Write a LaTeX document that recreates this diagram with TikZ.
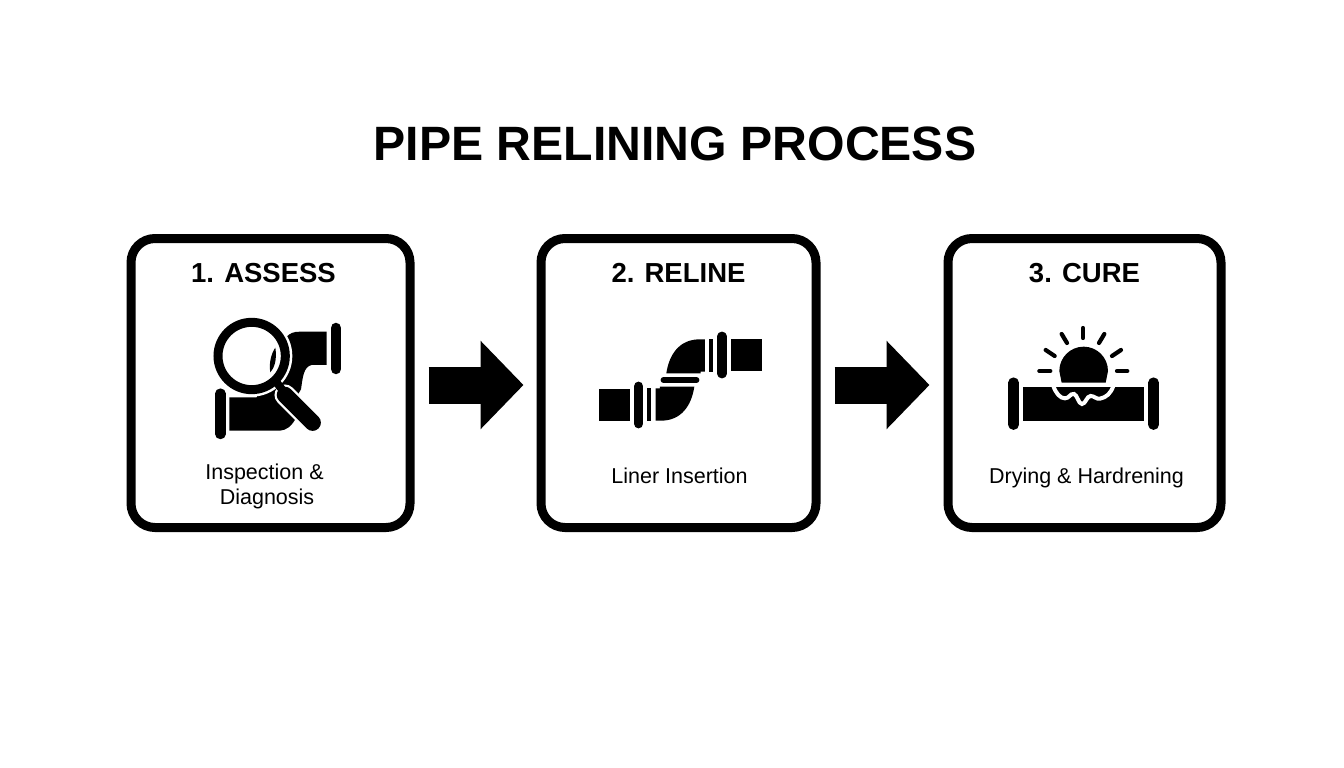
\documentclass[tikz,border=0pt]{standalone}
\usepackage{fontspec}
\setmainfont{Liberation Sans}
\usetikzlibrary{arrows.meta,calc,positioning}
\tikzset{
	stepbox/.style={draw,line width=9pt,rounded corners=24pt,minimum height=289pt,inner sep=0pt},
	heading/.style={font=\fontsize{27.5}{30}\selectfont\bfseries,inner sep=0pt},
	caption/.style={font=\fontsize{21.5}{25}\selectfont,align=center,inner sep=0pt},
	flow/.style={line width=37pt,-{Triangle[length=43pt,width=86pt]}},
	pipefill/.style={fill=black,draw=none},
	flange/.style={line width=10.5pt,line cap=round},
	ray/.style={line width=4.2pt,line cap=round},
	icon at/.style 2 args={shift={(#1pt,-#2pt)},x=.3333pt,y=-.3333pt},
}
\begin{document}
\begin{tikzpicture}[x=1pt,y=-1pt]
   \useasboundingbox (0,0) rectangle (1344,768);
   \node[font=\fontsize{48.2}{52}\selectfont\bfseries,inner sep=0pt] (title) at (675,144) {PIPE RELINING PROCESS};
   % the three boxes
   \node[stepbox,minimum width=279pt] (assess) at (270.5,383) {};
   \node[stepbox,minimum width=275pt,right=122pt of assess] (reline) {};
   \node[stepbox,minimum width=273pt,right=123pt of reline] (cure) {};
   \draw[flow,shorten <=14pt,shorten >=13pt] ([yshift=-2pt]assess.east) -- ([yshift=-2pt]reline.west);
   \draw[flow,shorten <=14pt,shorten >=14pt] ([yshift=-2pt]reline.east) -- ([yshift=-2pt]cure.west);
   \node[heading] (assesshead) at (263.5,273) {1. ASSESS};
   \node[heading] (relinehead) at (678.5,273) {2. RELINE};
   \node[heading] (curehead) at (1084.5,273) {3. CURE};
   \node[caption] (assesstext) at (264.5,486) {Inspection \&\\[0pt]\hspace*{5pt}Diagnosis};
   \node[caption,anchor=base] (relinetext) at (679.5,483) {Liner Insertion};
   \node[caption,anchor=base] (curetext) at (1086.5,483) {Drying \& Hardrening};
   % magnifier over the elbow
   \begin{scope}[icon at={190}{300}]
      \fill[pipefill] (118,292) -- (118,392) -- (270,392) .. controls (290,390) and (305,380) .. (320,350)
         -- (320,290) -- (333,268) .. controls (338,235) and (340,200) .. (365,195) -- (410,195) -- (410,95)
         -- (330,95) .. controls (310,95) and (300,100) .. (290,110) -- (200,292) -- cycle;
      \draw[flange] (438,84) -- (438,207);
      \draw[flange] (91,281) -- (91,402);
      \draw[white,line width=21pt,line cap=round] (285,285) -- (368,368);
      \fill[white] (185,168) circle[radius=122];
      \draw[line width=9pt] (185,168) circle[radius=101];
      \fill[pipefill] (256,143) .. controls (244,160) and (236,190) .. (241,217) .. controls (252,205) and (262,180) .. cycle;
      \draw[line width=8pt] (262,250) -- (285,280);
      \draw[line width=16.5pt,line cap=round] (285,285) -- (368,368);
   \end{scope}
   % offset bend
   \begin{scope}[icon at={580}{320}]
      \foreach \a in {0,180} {
         \begin{scope}[rotate around={\a:(301,180)}]
            \fill[pipefill] (453,58) rectangle (545,152);
            \fill[pipefill] (388,58) rectangle (400,155);
            \draw[line width=9.5pt,line cap=round] (426,49) -- (426,161);
            \fill[pipefill] (375,58) -- (355,58) .. controls (300,60) and (268,100) .. (259,160)
               -- (362,160) -- (362,155) -- (375,155) -- cycle;
         \end{scope}
      }
      \draw[line width=5.5pt,line cap=round] (250,180) -- (350,180);
   \end{scope}
   % sun over the pipe
   \begin{scope}[icon at={990}{310}]
      \fill[pipefill] (100,232) rectangle (462,332);
      \draw[white,line width=4pt,line cap=round] (190,228) .. controls (198,250) and (210,265) .. (225,265)
         .. controls (238,265) and (240,250) .. (252,252) .. controls (262,254) and (265,282) .. (276,282)
         .. controls (287,282) and (290,258) .. (302,258) .. controls (314,258) and (318,268) .. (330,266)
         .. controls (350,262) and (362,250) .. (370,228);
      \draw[flange] (71,218) -- (71,344);
      \draw[flange] (491,218) -- (491,344);
      \fill[pipefill] (215,218) -- (208,183) arc[start angle=180,end angle=360,radius=73] -- (347,218) -- cycle;
      \foreach \xa/\ya/\xb/\yb in {279/54/279/84, 215/72/231/99, 343/72/327/99, 167/120/194/138,
            393/120/366/138, 148/183/181/183, 381/183/412/183}
         \draw[ray] (\xa,\ya) -- (\xb,\yb);
   \end{scope}
\end{tikzpicture}
\end{document}
